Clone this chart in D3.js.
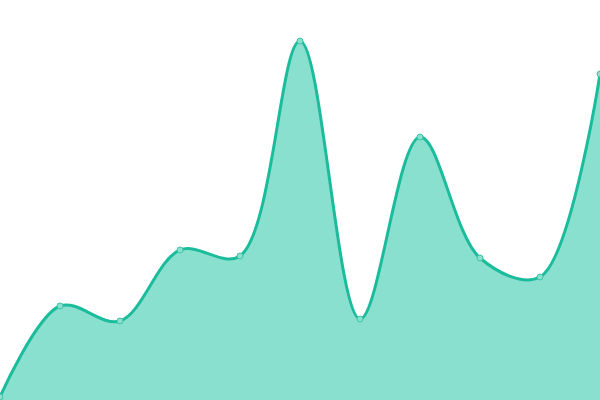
<!DOCTYPE html>
<html>
<head>
<meta charset="utf-8">
<script src="https://cdn.jsdelivr.net/npm/d3@7"></script>
<style>
html,body{margin:0;padding:0;background:#fff;overflow:hidden;}
svg{display:block;}
</style>
</head>
<body>
<svg id="chart" width="600" height="400"></svg>
<script>
const categories = [0,1,2,3,4,5,6,7,8,9,10];
const values = [3, 94, 79, 150, 144, 359, 81, 263, 142, 123, 326];

const W = 600, H = 400;
const svg = d3.select("#chart");
const x = d3.scaleLinear().domain([0, 10]).range([0, W]);
const y = d3.scaleLinear().domain([0, 400]).range([H, 0]);

const data = categories.map((c,i)=>({c, v: values[i]}));
const curve = d3.curveCatmullRom.alpha(0.5);

const area = d3.area().x(d=>x(d.c)).y0(y(0)).y1(d=>y(d.v)).curve(curve);
const line = d3.line().x(d=>x(d.c)).y(d=>y(d.v)).curve(curve);

svg.append("path").datum(data).attr("d", area).attr("fill", "#8ae0cf");
svg.append("path").datum(data).attr("d", line).attr("fill", "none")
  .attr("stroke", "#1abc9c").attr("stroke-width", 3);
svg.selectAll("circle").data(data).join("circle")
  .attr("cx", d=>x(d.c)).attr("cy", d=>y(d.v)).attr("r", 3)
  .attr("fill", "#8ae0cf").attr("stroke", "#3cc4a6").attr("stroke-width", 1);
</script>
</body>
</html>
